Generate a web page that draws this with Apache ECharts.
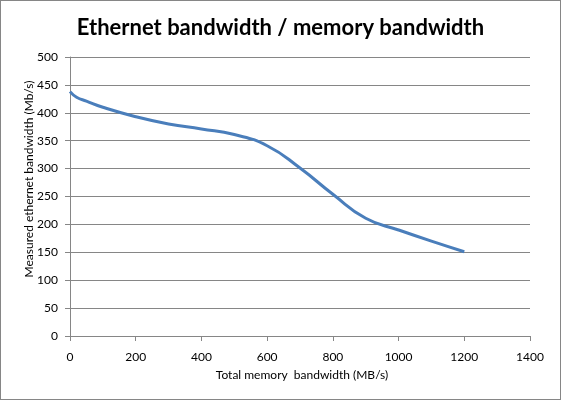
<!DOCTYPE html>
<html>
<head>
<meta charset="utf-8">
<script src="https://cdn.jsdelivr.net/npm/echarts@6/dist/echarts.min.js"></script>
<style>
html,body{margin:0;padding:0;background:#fff;}
#c{width:561px;height:400px;box-sizing:border-box;border:1px solid #868686;}
</style>
</head>
<body>
<div id="c"></div>
<script>
const memoryBandwidth = [0, 20, 50, 100, 200, 300, 400, 500, 600, 700, 800, 900, 1000, 1100, 1200];
const ethernetBandwidth = [438, 428, 421, 410, 393, 380, 371, 361, 341, 301, 254, 211, 190, 170, 151];
const xTicks = [0, 200, 400, 600, 800, 1000, 1200, 1400];
const yTicks = [0, 50, 100, 150, 200, 250, 300, 350, 400, 450, 500];
const yAxisTitle = 'Measured ethernet bandwidth (Mb/s)';

const chart = echarts.init(document.getElementById('c'), null, {renderer: 'canvas'});
const points = memoryBandwidth.map((x, i) => [x, ethernetBandwidth[i]]);
const font = 'Lato';
chart.setOption({
  animation: false,
  title: {
    text: 'Ethernet bandwidth / memory bandwidth',
    left: 'center',
    top: 11,
    textStyle: {fontFamily: font, fontWeight: 'bold', fontSize: 22, color: '#000'}
  },
  graphic: [{
    type: 'text',
    x: 28, y: 178,
    rotation: Math.PI / 2,
    style: {
      text: yAxisTitle,
      fontFamily: font, fontSize: 12, fill: '#000',
      textAlign: 'center', textVerticalAlign: 'middle'
    }
  }],
  grid: {left: 69, right: 30, top: 56, bottom: 63},
  xAxis: {
    type: 'value',
    min: xTicks[0], max: xTicks[xTicks.length - 1], interval: 200,
    name: 'Total memory  bandwidth (MB/s)',
    nameLocation: 'middle', nameGap: 33,
    nameTextStyle: {fontFamily: font, fontSize: 12, color: '#000', padding: [0, 0, 0, 4]},
    axisLine: {show: true, lineStyle: {color: '#868686', width: 1}},
    axisTick: {show: true, inside: false, length: 5, lineStyle: {color: '#868686'}},
    axisLabel: {fontFamily: font, fontSize: 12, color: '#000', margin: 15, formatter: v => String(v)},
    splitLine: {show: false}
  },
  yAxis: {
    type: 'value',
    min: yTicks[0], max: yTicks[yTicks.length - 1], interval: 50,
    axisLine: {show: true, lineStyle: {color: '#868686', width: 1}},
    axisTick: {show: true, inside: false, length: 5, lineStyle: {color: '#868686'}},
    axisLabel: {fontFamily: font, fontSize: 12, color: '#000', margin: 12, formatter: v => String(v)},
    splitLine: {show: true, lineStyle: {color: '#868686', width: 1}}
  },
  series: [{
    type: 'line',
    data: points,
    smooth: 0.5,
    showSymbol: false,
    lineStyle: {color: '#4a7ebb', width: 3},
    itemStyle: {color: '#4a7ebb'}
  }]
});
</script>
</body>
</html>
